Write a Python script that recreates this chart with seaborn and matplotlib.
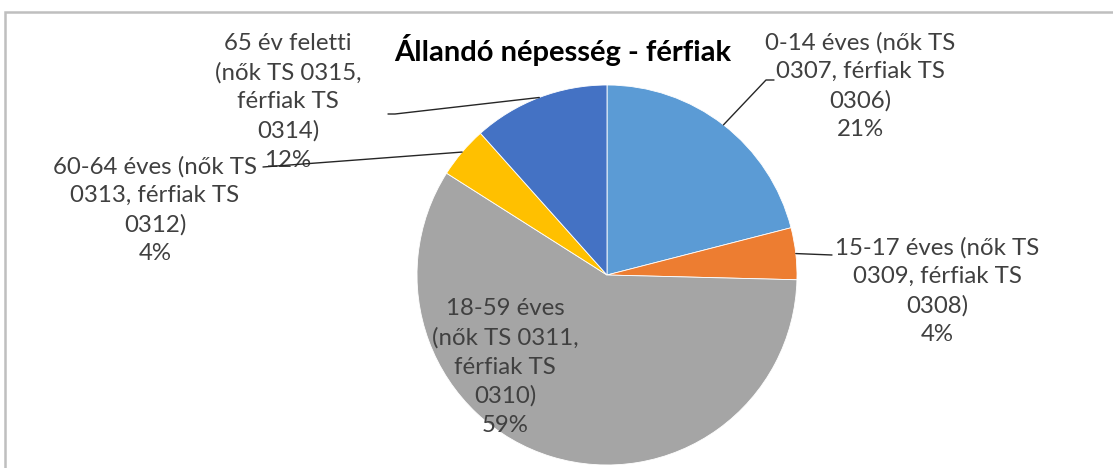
import numpy as np
import seaborn as sns
import matplotlib.pyplot as plt
from matplotlib.patches import Rectangle

# data
groups = ['0-14 éves (nők TS\n0307, férfiak TS\n0306)',
          '15-17 éves (nők TS\n0309, férfiak TS\n0308)',
          '18-59 éves\n(nők TS 0311,\nférfiak TS\n0310)',
          '60-64 éves (nők TS\n0313, férfiak TS\n0312)',
          '65 év feletti\n(nők TS 0315,\nférfiak TS\n0314)']
shares = [21.0, 4.4, 58.6, 4.4, 11.6]
colors = ['#5B9BD5', '#ED7D31', '#A5A5A5', '#FFC000', '#4472C4']
title = 'Állandó népesség - férfiak'

sns.set_theme(style='white')
plt.rcParams['font.family'] = ['Lato', 'DejaVu Sans']

W, H = 1113, 468
fig = plt.figure(figsize=(W / 100, H / 100), dpi=100)
ax = fig.add_axes([0, 0, 1, 1])

cx, cy, r = 607, H - 275, 190
wedges, _ = ax.pie(shares, colors=colors, startangle=90, counterclock=False,
                   center=(cx, cy), radius=r,
                   wedgeprops=dict(edgecolor='white', linewidth=0.6))
ax.set_xlim(0, W)
ax.set_ylim(0, H)
ax.set_aspect('equal')
ax.axis('off')

# label positions (pixel coords, top-left origin) and leader line ends
label_pos = [(860, 86), (937, 291), (505, 367), (155, 210), (288, 102)]
leader_end = [[(766, 80), (774, 80)],
              [(832, 255)],
              None,
              [(263, 167)],
              [(395, 114), (388, 114)]]

txt_color = '#404040'
for w, g, s, (lx, ly), le in zip(wedges, groups, shares, label_pos, leader_end):
    ax.text(lx, H - ly, f'{g}\n{s:.0f}%', ha='center', va='center',
            multialignment='center', fontsize=17.3, color=txt_color,
            linespacing=1.45, zorder=3)
    if le:
        ang = np.deg2rad((w.theta1 + w.theta2) / 2)
        xs = [cx + r * np.cos(ang)] + [p[0] for p in le]
        ys = [cy + r * np.sin(ang)] + [H - p[1] for p in le]
        ax.plot(xs, ys, color='#262626', lw=1, zorder=4)

ax.text(563, H - 50, title, ha='center', va='center', fontsize=21,
        fontweight='bold', color='black')

# chart area frame
fig.patches.append(Rectangle((5 / W, -0.1), 1.2, (H - 12) / H + 0.1,
                             transform=fig.transFigure, fill=False,
                             edgecolor='#BFBFBF', lw=1.8))

fig.savefig('out.png', dpi=100)
